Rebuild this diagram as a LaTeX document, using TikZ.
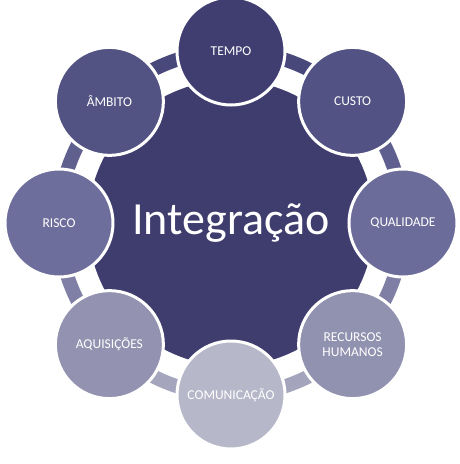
\documentclass[tikz,border=0pt]{standalone}
\usepackage{fontspec}
\setmainfont{Carlito}
\usetikzlibrary{backgrounds}
\definecolor{pmCentre}{HTML}{3F3D6D}
\definecolor{pmTempo}{HTML}{403E71}
\definecolor{pmCusto}{HTML}{525284}
\definecolor{pmQual}{HTML}{6C6C9B}
\definecolor{pmRecursos}{HTML}{9191B0}
\definecolor{pmComun}{HTML}{B7B7CA}
\definecolor{pmAquis}{HTML}{9393B1}
\definecolor{pmRisco}{HTML}{6E6E9C}
\definecolor{pmAmbito}{HTML}{525283}

\begin{document}
\begin{tikzpicture}[x=1pt, y=1pt,
    every node/.style={font=\fontsize{13.5}{14.5}\selectfont, text=white},
    area/.style={circle, draw=white, line width=3pt, minimum size=108pt, inner sep=0pt, align=center},
    centre/.style={circle, draw=white, line width=4pt, minimum size=290pt, inner sep=0pt,
                   fill=pmCentre, font=\fontsize{46}{54}\selectfont},
    ringband/.style={draw=white, line width=2.5pt, double distance=14pt, bend left=22.5, looseness=0.885},
  ]
  \useasboundingbox (-231,-241) rectangle (229,223);

  % Central area
  \node[centre] (integ) at (0,0) {Integração};

  % Knowledge areas round the centre
  \node[area, fill=pmTempo] (tempo) at (90:172) {TEMPO};
  \node[area, fill=pmCusto] (custo) at (45:172) {CUSTO};
  \node[area, fill=pmQual] (qual) at (0:172) {QUALIDADE};
  \node[area, fill=pmRecursos] (recursos) at (-45:172) {RECURSOS\\HUMANOS};
  \node[area, fill=pmComun] (comun) at (-90:172) {COMUNICAÇÃO};
  \node[area, fill=pmAquis] (aquis) at (-135:172) {AQUISIÇÕES};
  \node[area, fill=pmRisco] (risco) at (180:172) {RISCO};
  \node[area, fill=pmAmbito] (ambito) at (135:172) {ÂMBITO};

  % Ring behind the areas
  \begin{scope}[on background layer]
    \draw[ringband, double=pmTempo!50!pmCusto] (tempo.center) to (custo.center);
    \draw[ringband, double=pmCusto!50!pmQual] (custo.center) to (qual.center);
    \draw[ringband, double=pmQual!50!pmRecursos] (qual.center) to (recursos.center);
    \draw[ringband, double=pmRecursos!50!pmComun] (recursos.center) to (comun.center);
    \draw[ringband, double=pmComun!50!pmAquis] (comun.center) to (aquis.center);
    \draw[ringband, double=pmAquis!50!pmRisco] (aquis.center) to (risco.center);
    \draw[ringband, double=pmRisco!50!pmAmbito] (risco.center) to (ambito.center);
    \draw[ringband, double=pmAmbito!50!pmTempo] (ambito.center) to (tempo.center);
  \end{scope}
\end{tikzpicture}
\end{document}
